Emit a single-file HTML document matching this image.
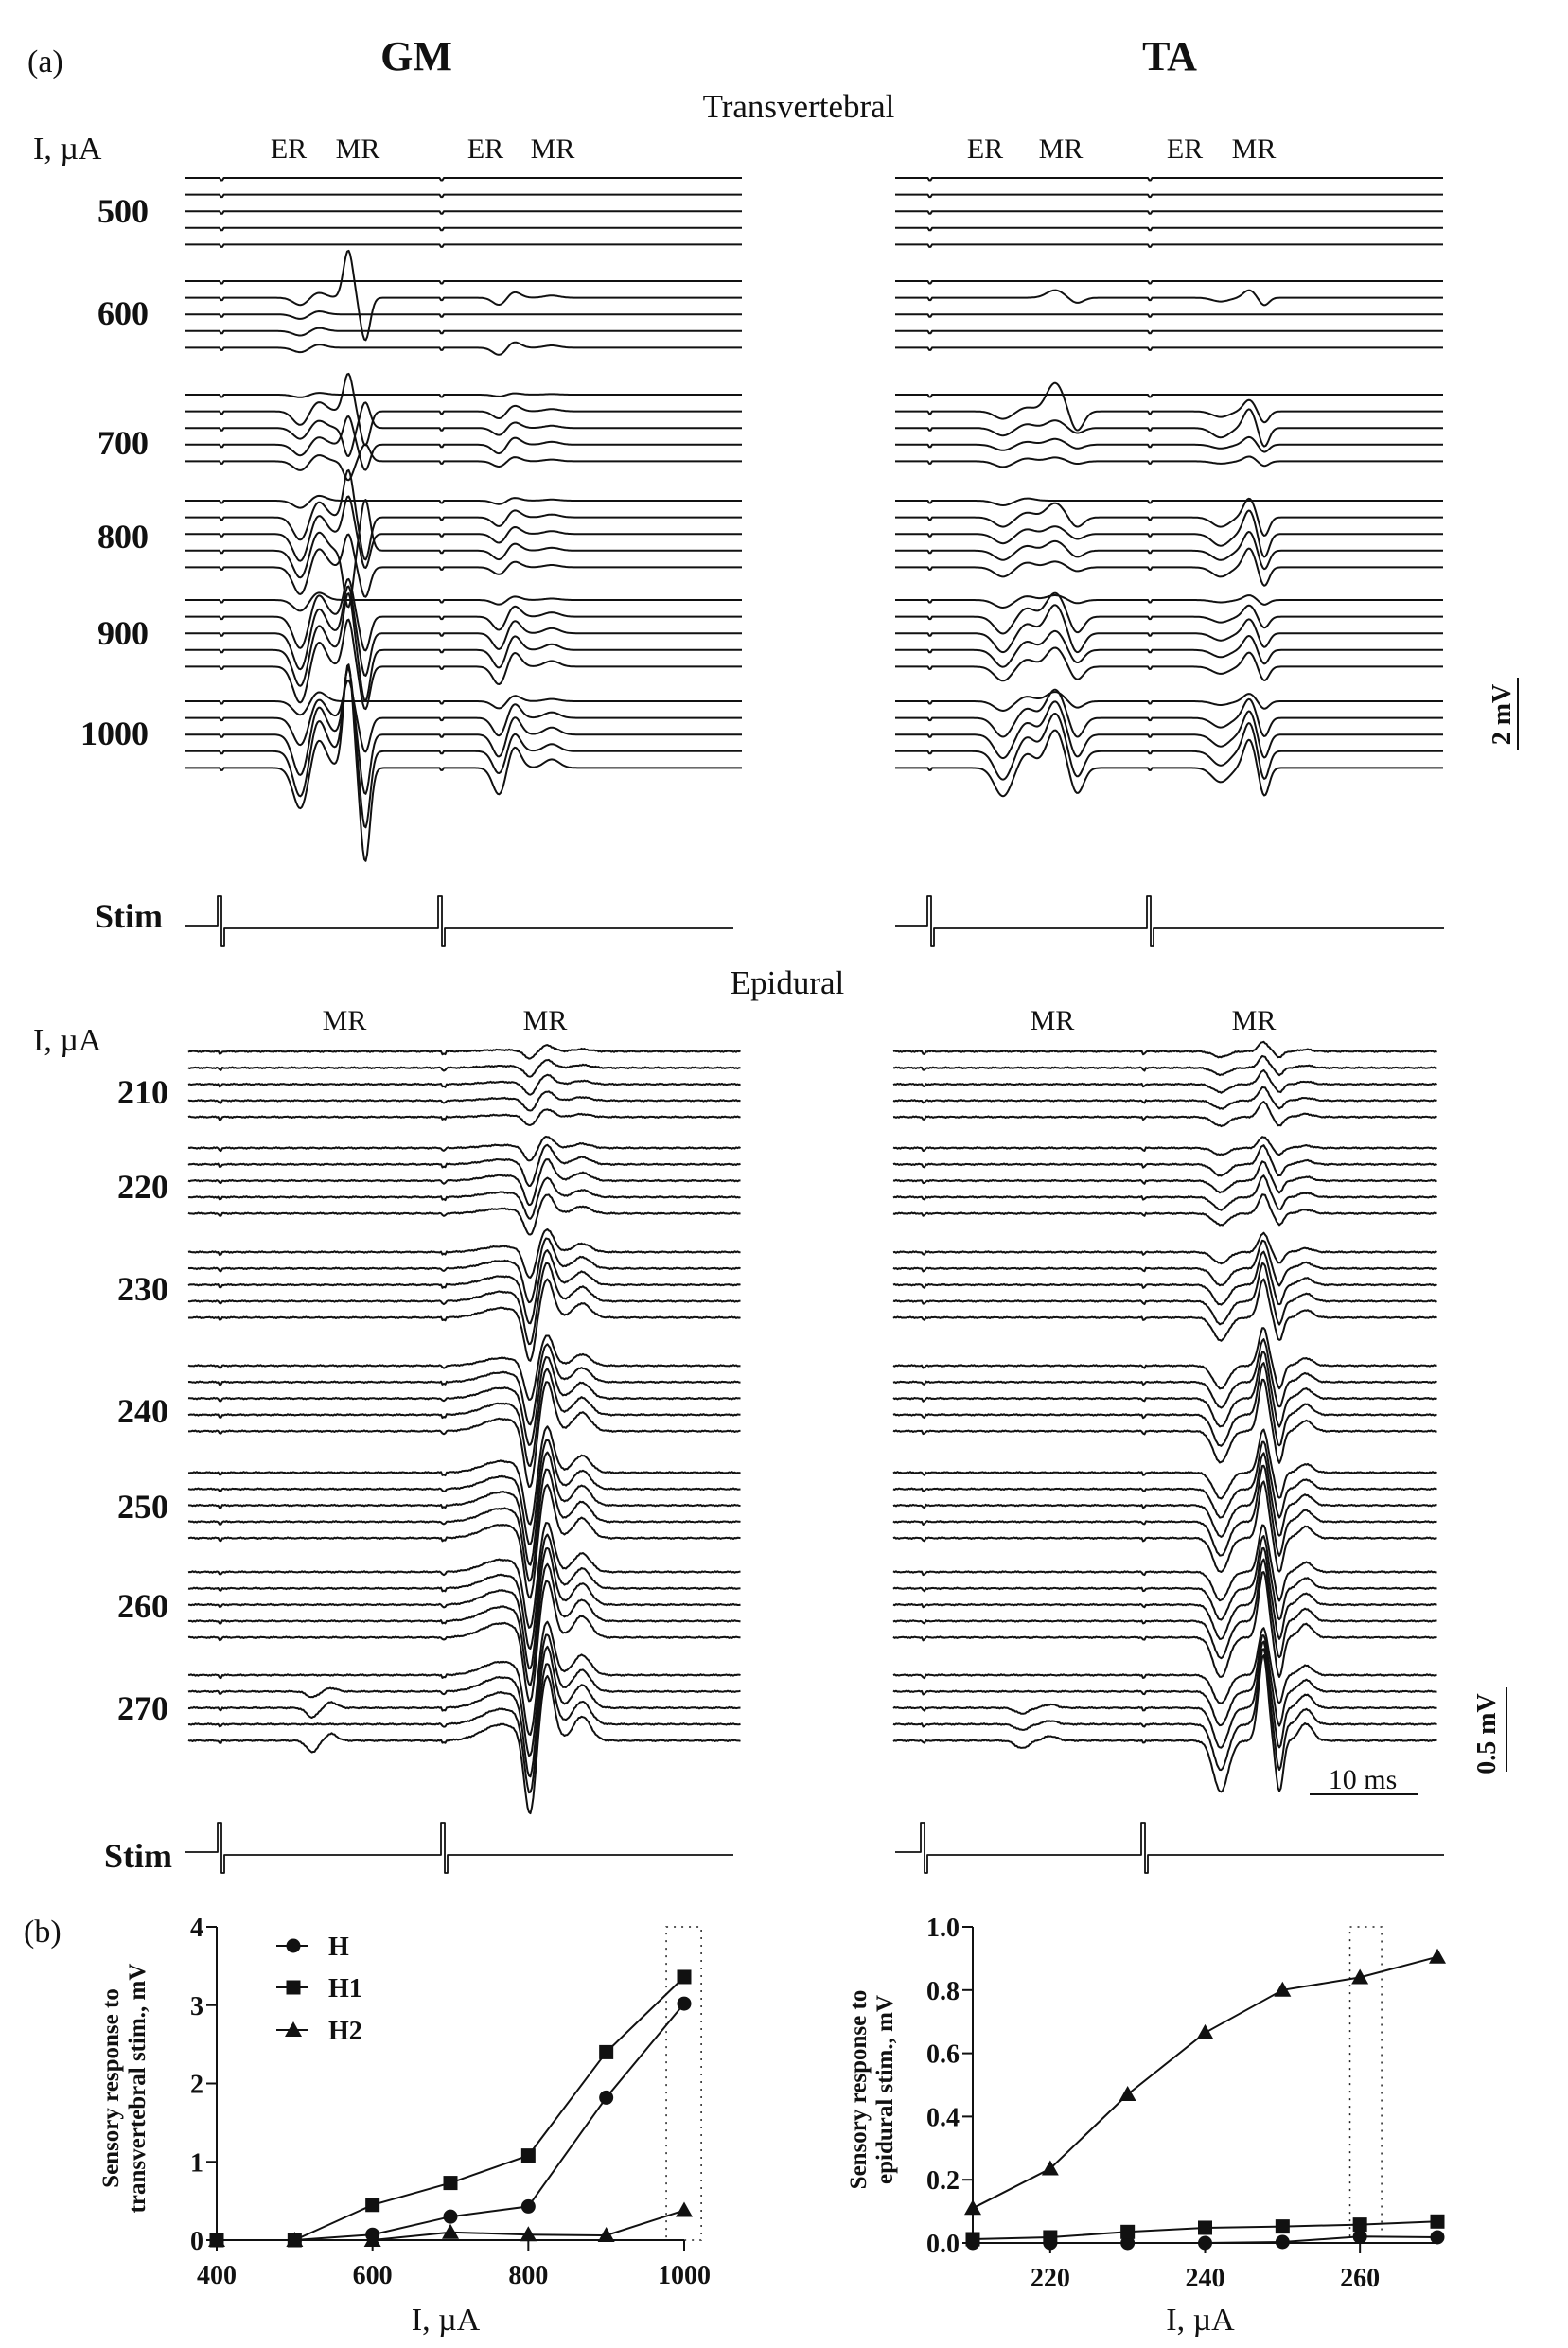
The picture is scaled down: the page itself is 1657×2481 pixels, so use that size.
<!DOCTYPE html>
<html><head><meta charset="utf-8"><style>
html,body{margin:0;padding:0;background:#fff}
svg{display:block}
text{font-family:"Liberation Serif",serif;fill:#111}
.b{font-weight:bold}
</style></head><body>
<svg id="root" width="1657" height="2481" viewBox="0 0 1657 2481" xmlns="http://www.w3.org/2000/svg">
<g id="static">
<text x="29" y="76" font-size="34">(a)</text>
<text x="440" y="74" font-size="44" text-anchor="middle" font-weight="600">GM</text>
<text x="1236" y="74" font-size="44" text-anchor="middle" font-weight="600">TA</text>
<text x="844" y="124" font-size="35" text-anchor="middle">Transvertebral</text>
<text x="35" y="168" font-size="34">I, µA</text>
<text x="305" y="167" font-size="30" text-anchor="middle">ER</text>
<text x="378" y="167" font-size="30" text-anchor="middle">MR</text>
<text x="513" y="167" font-size="30" text-anchor="middle">ER</text>
<text x="584" y="167" font-size="30" text-anchor="middle">MR</text>
<text x="1041" y="167" font-size="30" text-anchor="middle">ER</text>
<text x="1121" y="167" font-size="30" text-anchor="middle">MR</text>
<text x="1252" y="167" font-size="30" text-anchor="middle">ER</text>
<text x="1325" y="167" font-size="30" text-anchor="middle">MR</text>
<text x="832" y="1050" font-size="35" text-anchor="middle">Epidural</text>
<text x="35" y="1110" font-size="34">I, µA</text>
<text x="364" y="1088" font-size="30" text-anchor="middle">MR</text>
<text x="576" y="1088" font-size="30" text-anchor="middle">MR</text>
<text x="1112" y="1088" font-size="30" text-anchor="middle">MR</text>
<text x="1325" y="1088" font-size="30" text-anchor="middle">MR</text>
<text x="172" y="980" font-size="36" text-anchor="end" class="b">Stim</text>
<text x="182" y="1973" font-size="36" text-anchor="end" class="b">Stim</text>
<text transform="translate(1596,755) rotate(-90)" font-size="28" text-anchor="middle" class="b">2 mV</text>
<line x1="1604" y1="716" x2="1604" y2="793" stroke="#111" stroke-width="2"/>
<text transform="translate(1580,1832) rotate(-90)" font-size="28" text-anchor="middle" class="b">0.5 mV</text>
<line x1="1592" y1="1783" x2="1592" y2="1872" stroke="#111" stroke-width="2"/>
<text x="1440" y="1890" font-size="30" text-anchor="middle">10 ms</text>
<line x1="1384" y1="1896" x2="1498" y2="1896" stroke="#111" stroke-width="2"/>
<text x="25" y="2052" font-size="34">(b)</text>
</g>
<g id="traces"></g>
<g id="chartL"></g>
<g id="chartR"></g>
</svg>
<script>
const transLabels = ["500","600","700","800","900","1000"];
const transLabelY = [223,331,468,567,669,775];
const transGroupStart = [188,297,417,529,634,741];
const epiLabels = ["210","220","230","240","250","260","270"];
const epiLabelY = [1154,1254,1362,1491,1592,1697,1805];
const epiGroupStart = [1111,1213,1323,1443,1556,1661,1770];

const gmTransER1 = [0,0,0,0,0, 0,8,5,5,5, 3,15,12,12,10, 8,25,30,30,30, 12,35,40,40,40, 15,30,45,50,45];
const gmTransMR1 = [0,0,0,0,0, 0,50,0,0,0, 0,40,-30,30,-20, 0,50,40,-60,35, 0,40,50,60,50, 0,40,70,90,110];
const gmTransER2 = [0,0,0,0,0, 0,8,0,0,8, 2,8,8,10,6, 4,10,10,10,8, 5,15,18,20,20, 8,20,25,25,30];
const taTransER1 = [0,0,0,0,0, 0,0,0,0,0, 0,8,8,6,6, 5,10,10,10,10, 8,18,20,18,15, 10,20,25,30,30];
const taTransMR1 = [0,0,0,0,0, 0,8,0,0,0, 0,30,8,6,4, 0,15,8,10,6, 5,25,30,20,20, 10,30,35,40,40];
const taTransMR2 = [0,0,0,0,0, 0,8,0,0,0, 0,12,20,8,5, 0,20,25,20,20, 5,12,15,15,15, 8,20,25,30,30];
const gmEpiMain = [8,10,12,12,10, 15,25,28,25,25, 30,40,45,50,50, 40,50,55,60,65, 60,65,70,70,70, 65,70,75,75,75, 70,75,80,80,85];
const taEpiMain = [10,12,14,14,16, 12,20,20,22,20, 20,30,35,40,40, 40,45,50,55,55, 45,50,55,60,60, 50,55,60,65,70, 50,60,70,80,90];
const gmEpiEarly = [0,0,0,0,0, 0,0,0,0,0, 0,0,0,0,0, 0,0,0,0,0, 0,0,0,0,0, 0,0,0,0,0, 0,6,10,0,12];
const taEpiEarly = [0,0,0,0,0, 0,0,0,0,0, 0,0,0,0,0, 0,0,0,0,0, 0,0,0,0,0, 0,0,0,0,0, 0,0,6,6,8];

const NS="http://www.w3.org/2000/svg";
function g(x,c,w){return Math.exp(-((x-c)*(x-c))/(2*w*w));}
function shapeVal(x,sh){let s=0;for(const [c,w,k] of sh)s+=k*g(x,c,w);return s;}
const tr=document.getElementById('traces');
function addPath(d,sw,name){
  const p=document.createElementNS(NS,'path');
  p.setAttribute('d',d);p.setAttribute('fill','none');p.setAttribute('stroke','#111');
  p.setAttribute('stroke-width',sw);p.setAttribute('stroke-linejoin','round');
  
  
  tr.appendChild(p);
}
function addText(x,y,s,fs,anchor,bold,parent,name){
  const t=document.createElementNS(NS,'text');
  t.setAttribute('x',x);t.setAttribute('y',y);t.setAttribute('font-size',fs);
  if(anchor)t.setAttribute('text-anchor',anchor);
  if(bold)t.setAttribute('font-weight','bold');
  t.textContent=s;
  
  
  (parent||tr).appendChild(t);return t;
}
function drawSection(x0,x1,stims,starts,spacing,comps,noise,name){
  for(let gi=0;gi<starts.length;gi++)for(let r=0;r<5;r++){
    const row=gi*5+r, base=starts[gi]+r*spacing;
    let d='';
    for(let x=x0;x<=x1;x+=1.5){
      let y=base;
      for(const cp of comps) y+=cp.amp[row]*shapeVal(x,cp.shape);
      for(const s of stims) if(Math.abs(x-s)<2) y+=2.5;
      if(noise) y+=noise*(Math.sin(x*1.9+row*3.1)*0.5+Math.sin(x*3.7+row)*0.4);
      d+=(d?'L':'M')+x.toFixed(1)+','+y.toFixed(1);
    }
    addPath(d,2,name);
  }
}
drawSection(196,785,[234,467],transGroupStart,17.6,[
 {amp:gmTransER1,shape:[[318,8,1],[336,8,-0.7]]},
 {amp:gmTransMR1,shape:[[368,5,-1],[386,5,0.9]]},
 {amp:gmTransER2,shape:[[528,7,1],[543,7,-0.8],[583,8,-0.3]]}],0,'gm-transvertebral-trace');
drawSection(946,1526,[983,1215],transGroupStart,17.6,[
 {amp:taTransER1,shape:[[1060,9,1],[1085,8,-0.5]]},
 {amp:taTransMR1,shape:[[1115,9,-1],[1138,7,0.7]]},
 {amp:taTransMR2,shape:[[1290,9,0.5],[1320,6,-1],[1336,5,1]]}],0,'ta-transvertebral-trace');
drawSection(199,783,[233,469],epiGroupStart,17.3,[
 {amp:gmEpiMain,shape:[[530,20,-0.2],[560,6,1],[578,7,-0.8],[615,9,-0.3]]},
 {amp:gmEpiEarly,shape:[[330,6,1],[350,6,-0.6]]}],0.9,'gm-epidural-trace');
drawSection(944,1519,[976,1209],epiGroupStart,17.3,[
 {amp:taEpiMain,shape:[[1290,8,0.6],[1335,5,-1],[1352,4,0.6],[1380,7,-0.2]]},
 {amp:taEpiEarly,shape:[[1080,7,1],[1110,7,-0.6]]}],0.9,'ta-epidural-trace');
transLabels.forEach((s,i)=>addText(157,transLabelY[i]+12,s,36,'end',true,null,'intensity-label'));
epiLabels.forEach((s,i)=>addText(178,epiLabelY[i]+12,s,36,'end',true,null,'intensity-label'));
function stim(x0,x1,p1,p2,base,name){
  const top=base-31, bot=base+22;
  const d=`M${x0},${base}H${p1}V${top}H${p1+4}V${bot}H${p1+7}V${base+3}H${p2}V${top}H${p2+4}V${bot}H${p2+7}V${base+3}H${x1}`;
  addPath(d,1.8,name);
}
stim(196,775,230,463,978,'stim-trace-gm-top');
stim(946,1526,980,1212,978,'stim-trace-ta-top');
stim(196,775,230,466,1957,'stim-trace-gm-bottom');
stim(946,1526,973,1206,1957,'stim-trace-ta-bottom');

const xTrans = [400,500,600,700,800,900,1000];
const transH  = [0,0,0.07,0.30,0.43,1.82,3.02];
const transH1 = [0,0,0.45,0.73,1.08,2.40,3.36];
const transH2 = [0,0,0,0.10,0.07,0.06,0.38];
const transYTicks = [0,1,2,3,4];
const transXTicks = [400,600,800,1000];
const xEpi = [210,220,230,240,250,260,270];
const epiH  = [0,0,0,0,0.003,0.02,0.018];
const epiH1 = [0.012,0.018,0.035,0.048,0.052,0.058,0.068];
const epiH2 = [0.11,0.235,0.47,0.665,0.80,0.84,0.905];
const epiYTicks = ["0.0","0.2","0.4","0.6","0.8","1.0"];
const epiXTicks = [220,240,260];

function el(parent,tag,attrs){const e=document.createElementNS(NS,tag);for(const k in attrs)e.setAttribute(k,attrs[k]);parent.appendChild(e);return e;}
function marker(parent,type,x,y){
  let m;
  if(type==='circle') m=el(parent,'circle',{cx:x,cy:y,r:7.5,fill:'#111'});
  else if(type==='square') m=el(parent,'rect',{x:x-7.5,y:y-7.5,width:15,height:15,fill:'#111'});
  else m=el(parent,'polygon',{points:`${x},${y-9} ${x+9},${y+7} ${x-9},${y+7}`,fill:'#111'});
  
  
}
function chart(id,cfg){
  const G=document.getElementById(id);
  const sx=v=>cfg.px0+(v-cfg.xmin)/(cfg.xmax-cfg.xmin)*(cfg.px1-cfg.px0);
  const sy=v=>cfg.py0-(v-cfg.ymin)/(cfg.ymax-cfg.ymin)*(cfg.py0-cfg.py1);
  const bx=el(G,'rect',{x:sx(cfg.box[0]),y:cfg.py1,width:sx(cfg.box[1])-sx(cfg.box[0]),height:cfg.py0-cfg.py1,fill:'none',stroke:'#222','stroke-width':1.5,'stroke-dasharray':'2 6'});
  
  
  const ya=el(G,'line',{x1:cfg.px0,y1:cfg.py1,x2:cfg.px0,y2:cfg.py0,stroke:'#111','stroke-width':2});
  
  
  const xa=el(G,'line',{x1:cfg.px0,y1:cfg.py0,x2:cfg.px1,y2:cfg.py0,stroke:'#111','stroke-width':2});
  
  
  cfg.yt.forEach(t=>{const y=sy(+t);
    el(G,'line',{x1:cfg.px0-11,y1:y,x2:cfg.px0,y2:y,stroke:'#111','stroke-width':2});
    addText(cfg.px0-14,y+10,String(t),28,'end',true,G,'y-tick-label');});
  cfg.xt.forEach(t=>{const x=sx(t);
    el(G,'line',{x1:x,y1:cfg.py0,x2:x,y2:cfg.py0+11,stroke:'#111','stroke-width':2});
    addText(x,cfg.py0+46,String(t),28,'middle',true,G,'x-tick-label');});
  cfg.series.forEach(s=>{
    const pts=cfg.xs.map((v,i)=>sx(v).toFixed(1)+','+sy(s.v[i]).toFixed(1)).join(' ');
    const pl=el(G,'polyline',{points:pts,fill:'none',stroke:'#111','stroke-width':2});
    
    
    cfg.xs.forEach((v,i)=>marker(G,s.m,sx(v),sy(s.v[i])));
  });
  const tl=el(G,'text',{transform:`translate(${cfg.lx},${(cfg.py0+cfg.py1)/2+5}) rotate(-90)`,'font-size':25,'text-anchor':'middle','font-weight':'bold'});
  
  
  const t1=el(tl,'tspan',{x:0,dy:0});t1.textContent='Sensory response to';
  const t2=el(tl,'tspan',{x:0,dy:28});t2.textContent=cfg.ylab;
  addText((cfg.px0+cfg.px1)/2-5,2462,'I, µA',34,'middle',false,G,'x-axis-title');
}
chart('chartL',{px0:229,px1:723,py0:2367,py1:2036,xmin:400,xmax:1000,ymin:0,ymax:4,xs:xTrans,
  yt:transYTicks,xt:transXTicks,box:[977,1022],lx:125,ylab:'transvertebral stim., mV',
  series:[{n:'h',m:'circle',v:transH},{n:'h1',m:'square',v:transH1},{n:'h2',m:'triangle',v:transH2}]});
chart('chartR',{px0:1028,px1:1519,py0:2370,py1:2036,xmin:210,xmax:270,ymin:0,ymax:1,xs:xEpi,
  yt:epiYTicks,xt:epiXTicks,box:[258.7,262.8],lx:915,ylab:'epidural stim., mV',
  series:[{n:'h',m:'circle',v:epiH},{n:'h1',m:'square',v:epiH1},{n:'h2',m:'triangle',v:epiH2}]});
const L=document.getElementById('chartL');
[['circle','H',2056],['square','H1',2100],['triangle','H2',2145]].forEach(([m,t,y])=>{
  const ln=el(L,'line',{x1:292,y1:y,x2:326,y2:y,stroke:'#111','stroke-width':2});
  
  
  marker(L,m,310,y);
  addText(347,y+10,t,28,'start',true,L,'legend-entry');
});
</script>
</body></html>
